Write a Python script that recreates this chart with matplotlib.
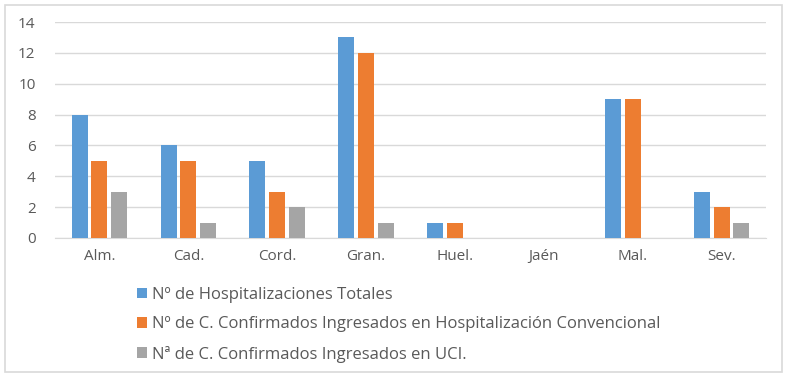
import matplotlib.pyplot as plt
import numpy as np
from matplotlib.patches import Rectangle

provincias = ["Alm.", "Cad.", "Cord.", "Gran.", "Huel.", "Jaén", "Mal.", "Sev."]
hosp_totales = [8, 6, 5, 13, 1, 0, 9, 3]
hosp_convencional = [5, 5, 3, 12, 1, 0, 9, 2]
ingresados_uci = [3, 1, 2, 1, 0, 0, 0, 1]

series = [
    ("Nº de Hospitalizaciones Totales", hosp_totales, "#5b9bd5"),
    ("Nº de C. Confirmados Ingresados en Hospitalización Convencional", hosp_convencional, "#ed7d31"),
    ("Nª de C. Confirmados Ingresados en UCI.", ingresados_uci, "#a5a5a5"),
]

plt.rcParams['font.family'] = ['Open Sans', 'DejaVu Sans']
text_color = "#595959"

fig = plt.figure(figsize=(7.96, 3.8), dpi=100)
# chart border
fig.patches.append(Rectangle((0.006, 0.02), 0.977, 0.968, transform=fig.transFigure,
                             fill=False, edgecolor="#d9d9d9", linewidth=1.2))

ax = fig.add_axes([55 / 796, 1 - 238 / 380, (766 - 55) / 796, (238 - 22) / 380])

x = np.arange(len(provincias))
width = 0.18
step = 0.222
for i, (label, vals, color) in enumerate(series):
    ax.bar(x + (i - 1) * step, vals, width, color=color, label=label, zorder=3)

ax.set_xlim(-0.5, len(provincias) - 0.5)
ax.set_ylim(0, 14)
ax.set_yticks(range(0, 15, 2))
ax.set_xticks(x)
ax.set_xticklabels(provincias)
ax.grid(axis="y", color="#d9d9d9", linewidth=1, zorder=0)
for s in ["top", "right", "left"]:
    ax.spines[s].set_visible(False)
ax.spines["bottom"].set_color("#d9d9d9")
ax.tick_params(axis="both", length=0, colors=text_color, labelsize=11)
ax.tick_params(axis="y", pad=14)
ax.tick_params(axis="x", pad=8)

handles, labels = ax.get_legend_handles_labels()
leg = fig.legend(handles, labels, loc="upper left", bbox_to_anchor=(122 / 796, 1 - 272 / 380),
                 frameon=False, fontsize=12, handlelength=0.6, handleheight=0.6,
                 handletextpad=0.3, labelspacing=0.8, labelcolor=text_color)

fig.savefig("out.png", dpi=100)
